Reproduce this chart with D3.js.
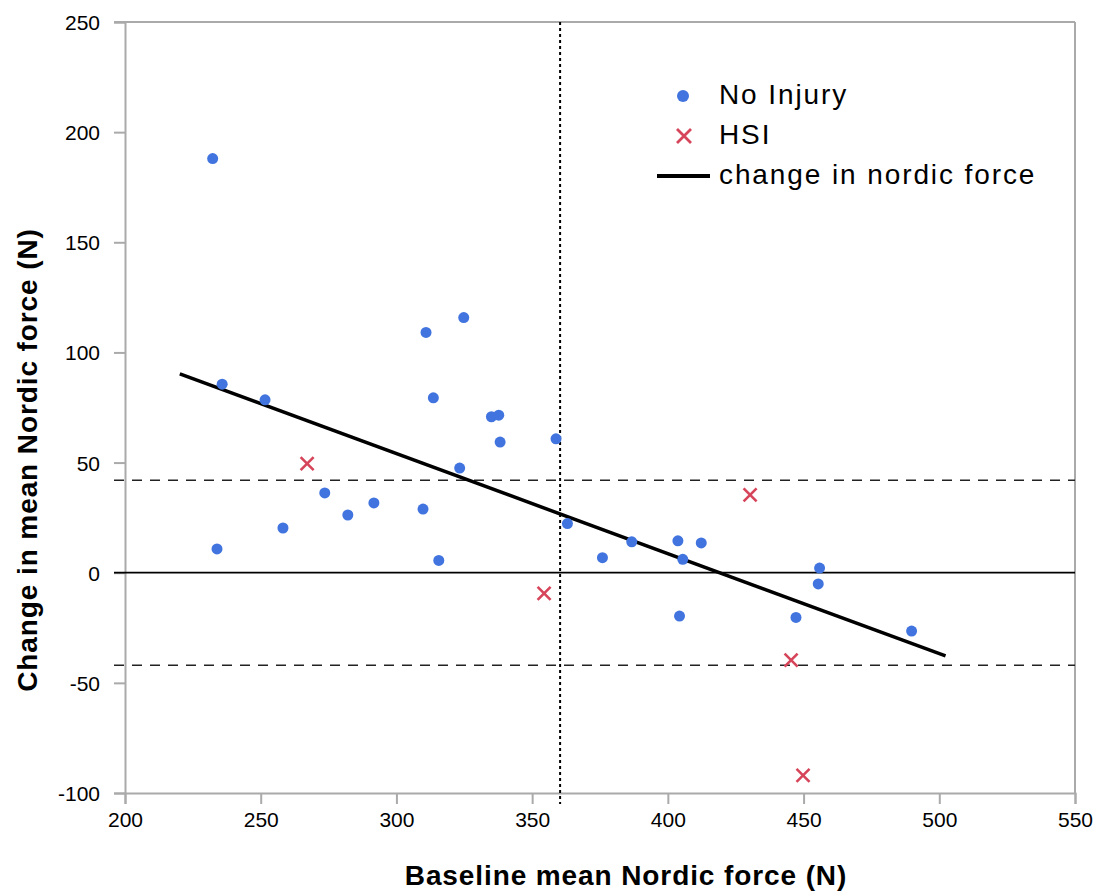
<!DOCTYPE html>
<html>
<head>
<meta charset="utf-8">
<script src="https://cdn.jsdelivr.net/npm/d3@7"></script>
<style>
  body { margin: 0; background: #fff; }
  svg { font-family: "Liberation Sans", Arial, Helvetica, sans-serif; }
</style>
</head>
<body>
<svg id="chart"></svg>
<script>
// data
const noInjuryX = [232.3, 235.8, 251.6, 233.9, 258.2, 273.6, 282.1, 291.7, 309.8, 310.9,
                   324.8, 313.6, 335.0, 337.7, 338.2, 323.3, 315.6, 358.8, 363.0, 375.9,
                   386.7, 403.7, 412.3, 405.5, 404.3, 447.2, 455.9, 455.4, 489.8];
const noInjuryY = [188.0, 85.6, 78.5, 10.8, 20.3, 36.2, 26.2, 31.7, 28.9, 109.1,
                   115.8, 79.4, 70.8, 71.5, 59.3, 47.5, 5.6, 60.8, 22.3, 6.8,
                   14.0, 14.5, 13.5, 6.1, -19.7, -20.3, 2.1, -5.1, -26.5];
const hsiX = [267.1, 354.4, 430.3, 445.4, 449.8];
const hsiY = [49.5, -9.4, 35.3, -39.7, -92.0];
const fitX = [220.2, 502.3];
const fitY = [90.3, -37.8];
const thresholdY = [42, -42];
const baselineMeanX = 360.3;
const xTicks = [200, 250, 300, 350, 400, 450, 500, 550];
const yTicks = [-100, -50, 0, 50, 100, 150, 200, 250];
const legendLabels = ["No Injury", "HSI", "change in nordic force"];

const width = 1095, height = 891;
const margin = {top: 22, right: 20, bottom: 98, left: 125};
const innerW = 1075 - margin.left;
const innerH = 793 - margin.top;

const blue = "#4174de";
const red = "#d6455a";
const grey = "#aaaaaa";

const svg = d3.select("#chart")
    .attr("width", width)
    .attr("height", height);

const g = svg.append("g")
    .attr("transform", "translate(" + margin.left + "," + margin.top + ")");

const x = d3.scaleLinear().domain([200, 550]).range([0, innerW]);
const y = d3.scaleLinear().domain([-100, 250]).range([innerH, 0]);

// axes
const xAxis = g.append("g")
    .attr("transform", "translate(0," + innerH + ")")
    .call(d3.axisBottom(x).tickValues(xTicks).tickSize(11).tickPadding(8).tickFormat(d3.format("d")));
const yAxis = g.append("g")
    .call(d3.axisLeft(y).tickValues(yTicks).tickSize(11).tickPadding(14).tickFormat(d => d < 0 ? "-" + Math.abs(d) : d));

[xAxis, yAxis].forEach(a => {
  a.select(".domain").attr("stroke", grey).attr("stroke-width", 2);
  a.selectAll(".tick line").attr("stroke", grey).attr("stroke-width", 2);
  a.selectAll(".tick text")
      .attr("fill", "#000")
      .style("font-size", "21px")
      .style("font-family", "'Liberation Sans', Arial, sans-serif");
});
yAxis.selectAll(".tick text").attr("dy", "0.36em");

// frame top and right
g.append("line")
    .attr("x1", -11).attr("x2", innerW)
    .attr("y1", 0).attr("y2", 0)
    .attr("stroke", grey).attr("stroke-width", 2);
g.append("line")
    .attr("x1", innerW).attr("x2", innerW)
    .attr("y1", 0).attr("y2", innerH)
    .attr("stroke", grey).attr("stroke-width", 2);

// zero line
g.append("line")
    .attr("x1", -11).attr("x2", innerW)
    .attr("y1", y(0)).attr("y2", y(0))
    .attr("stroke", "#000").attr("stroke-width", 1.8);

// threshold dashed lines
g.selectAll(".thresh")
    .data(thresholdY)
    .enter()
    .append("line")
    .attr("class", "thresh")
    .attr("x1", -11).attr("x2", innerW)
    .attr("y1", d => y(d)).attr("y2", d => y(d))
    .attr("stroke", "#222")
    .attr("stroke-width", 1.6)
    .attr("stroke-dasharray", "10,8");

// baseline mean dotted line
g.append("line")
    .attr("x1", x(baselineMeanX)).attr("x2", x(baselineMeanX))
    .attr("y1", 0).attr("y2", innerH + 11)
    .attr("stroke", "#000")
    .attr("stroke-width", 2)
    .attr("stroke-dasharray", "3,3");

// fit line
const fit = fitX.map((d, i) => [d, fitY[i]]);
g.append("path")
    .datum(fit)
    .attr("fill", "none")
    .attr("stroke", "#000")
    .attr("stroke-width", 3.5)
    .attr("d", d3.line().x(d => x(d[0])).y(d => y(d[1])));

// no injury points
const noInjury = noInjuryX.map((d, i) => ({x: d, y: noInjuryY[i]}));
g.selectAll(".dot")
    .data(noInjury)
    .enter()
    .append("circle")
    .attr("class", "dot")
    .attr("cx", d => x(d.x))
    .attr("cy", d => y(d.y))
    .attr("r", 5.5)
    .attr("fill", blue);

// HSI crosses
const cross = (cx, cy, s) => "M" + (cx - s) + "," + (cy - s) + "L" + (cx + s) + "," + (cy + s) +
    "M" + (cx - s) + "," + (cy + s) + "L" + (cx + s) + "," + (cy - s);
const hsi = hsiX.map((d, i) => ({x: d, y: hsiY[i]}));
g.selectAll(".hsi")
    .data(hsi)
    .enter()
    .append("path")
    .attr("class", "hsi")
    .attr("d", d => cross(x(d.x), y(d.y), 6.5))
    .attr("stroke", red)
    .attr("stroke-width", 2.6)
    .attr("fill", "none");

// legend
const legend = svg.append("g");
legend.append("circle").attr("cx", 683).attr("cy", 96).attr("r", 6).attr("fill", blue);
legend.append("path").attr("d", cross(684, 136, 7)).attr("stroke", red).attr("stroke-width", 2.8).attr("fill", "none");
legend.append("line").attr("x1", 657).attr("x2", 710).attr("y1", 176).attr("y2", 176)
    .attr("stroke", "#000").attr("stroke-width", 4);
legend.selectAll("text")
    .data(legendLabels)
    .enter()
    .append("text")
    .attr("x", 719)
    .attr("y", (d, i) => 94 + i * 40)
    .attr("dy", "0.36em")
    .style("font-size", "28px")
    .style("letter-spacing", "1.9px")
    .text(d => d);

// axis titles
svg.append("text")
    .attr("x", 626)
    .attr("y", 885)
    .attr("text-anchor", "middle")
    .style("font-size", "28px")
    .style("font-weight", "bold")
    .style("letter-spacing", "0.9px")
    .text("Baseline mean Nordic force (N)");
svg.append("text")
    .attr("transform", "translate(37,460) rotate(-90)")
    .attr("text-anchor", "middle")
    .style("font-size", "28px")
    .style("font-weight", "bold")
    .style("letter-spacing", "0.9px")
    .text("Change in mean Nordic force (N)");
</script>
</body>
</html>
